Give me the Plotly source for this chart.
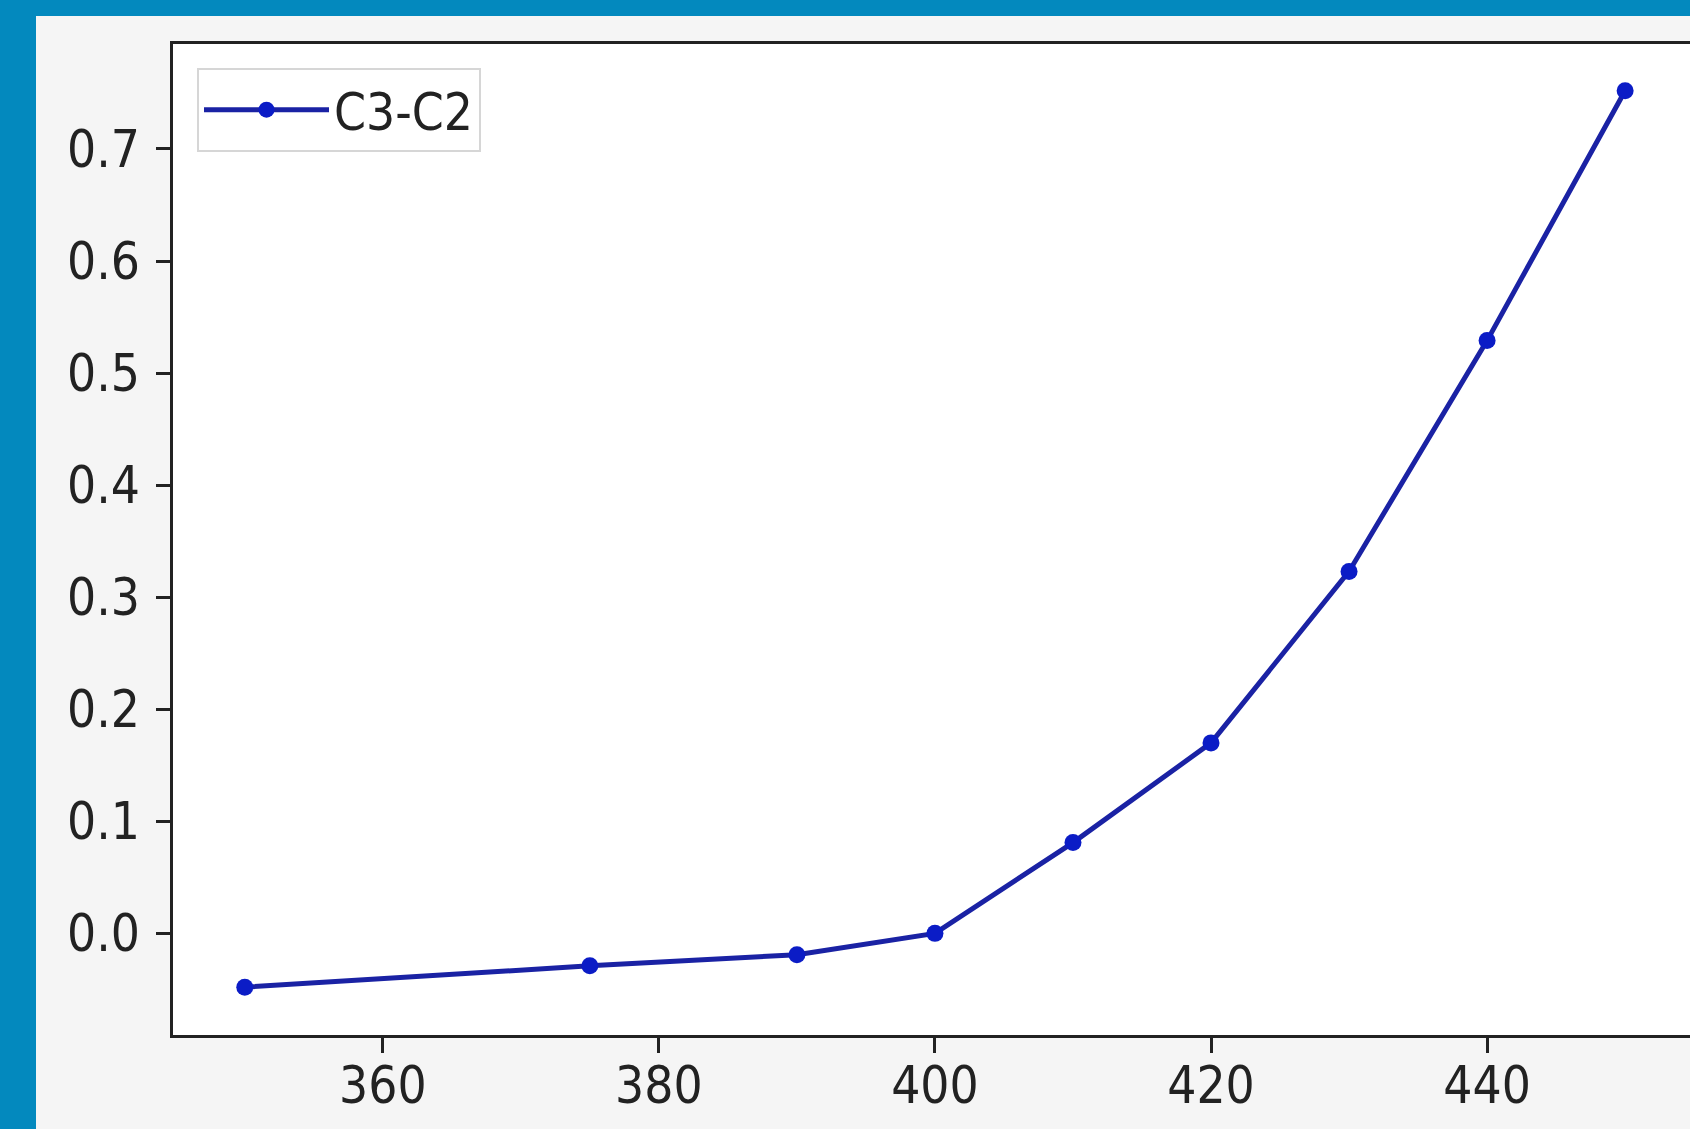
import plotly.graph_objects as go

# Data
temperature = [350, 375, 390, 400, 410, 420, 430, 440, 450]
c3_minus_c2 = [-0.048, -0.029, -0.019, 0.0, 0.081, 0.170, 0.323, 0.529, 0.752]
series_name = "C3-C2"

x_ticks = [360, 380, 400, 420, 440]
y_ticks = [0.0, 0.1, 0.2, 0.3, 0.4, 0.5, 0.6, 0.7]
y_tick_labels = ["0.0", "0.1", "0.2", "0.3", "0.4", "0.5", "0.6", "0.7"]

W, H = 1690, 1129
L, T, B, R = 173, 44, 94, 0
plot_w = W - L - R
plot_h = H - T - B

FONT = "'Liberation Sans Narrow', 'DejaVu Sans Condensed', 'Arial Narrow', 'DejaVu Sans', sans-serif"
BLUE_BAND = "#0389BE"
INK = "#222222"

def px_x(p):
    return (p - L) / plot_w

def px_y(p):
    return (H - B - p) / plot_h

fig = go.Figure()
fig.add_trace(go.Scatter(
    x=temperature, y=c3_minus_c2, name=series_name,
    mode="lines+markers",
    line=dict(color="#1a22a4", width=5),
    marker=dict(color="#0b1cc6", size=17),
))

shapes = [
    # left blue band
    dict(type="rect", xref="paper", yref="paper",
         x0=px_x(0), x1=px_x(36), y0=px_y(H), y1=px_y(0),
         fillcolor=BLUE_BAND, line=dict(width=0), layer="below"),
    # top blue band
    dict(type="rect", xref="paper", yref="paper",
         x0=px_x(0), x1=px_x(W + 10), y0=px_y(16), y1=px_y(0),
         fillcolor=BLUE_BAND, line=dict(width=0), layer="below"),
]

fig.update_layout(
    width=W, height=H,
    margin=dict(l=L, r=R, t=T, b=B, pad=0),
    paper_bgcolor="#f5f5f5",
    plot_bgcolor="white",
    font=dict(family=FONT, size=51, color=INK),
    shapes=shapes,
    showlegend=True,
    legend=dict(
        x=px_x(197), y=px_y(68), xanchor="left", yanchor="top",
        bgcolor="white", bordercolor="#d6d6d6", borderwidth=2,
        font=dict(family=FONT, size=51, color=INK),
        itemwidth=125,
    ),
    xaxis=dict(
        range=[344.8, 454.7],
        tickmode="array", tickvals=x_ticks,
        ticks="outside", ticklen=15, tickwidth=2.5, tickcolor=INK,
        showline=True, linecolor=INK, linewidth=2.5, mirror=True,
        showgrid=False, zeroline=False,
        ticklabelstandoff=-11,
    ),
    yaxis=dict(
        range=[-0.0907, 0.7937],
        tickmode="array", tickvals=y_ticks, ticktext=y_tick_labels,
        ticks="outside", ticklen=14, tickwidth=2.5, tickcolor=INK,
        showline=True, linecolor=INK, linewidth=2.5, mirror=False,
        showgrid=False, zeroline=False,
        ticklabelstandoff=6,
    ),
)

fig.write_html("out.html")
